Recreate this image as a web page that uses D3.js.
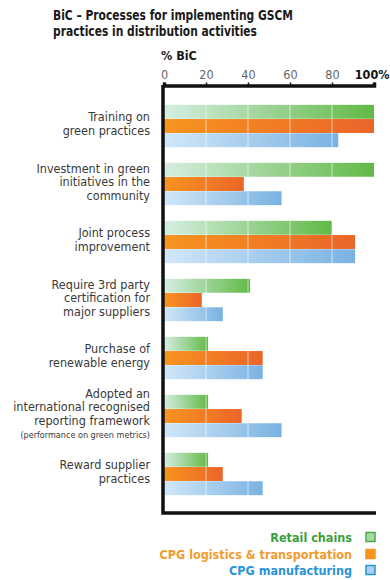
<!DOCTYPE html>
<html>
<head>
<meta charset="utf-8">
<script src="https://cdn.jsdelivr.net/npm/d3@7"></script>
<style>
  html, body { margin: 0; padding: 0; background: #fff; }
  svg { display: block; }
  .cond { font-family: "Liberation Sans Narrow", "DejaVu Sans Condensed", "Open Sans", sans-serif; }
</style>
</head>
<body>
<svg id="chart" width="390" height="580"></svg>
<script>
// Share of BiC companies using each GSCM process in distribution activities
const categories = [
  "Training on\ngreen practices",
  "Investment in green\ninitiatives in the\ncommunity",
  "Joint process\nimprovement",
  "Require 3rd party\ncertification for\nmajor suppliers",
  "Purchase of\nrenewable energy",
  "Adopted an\ninternational recognised\nreporting framework\n(performance on green metrics)",
  "Reward supplier\npractices"
];
const seriesNames = ["Retail chains", "CPG logistics & transportation", "CPG manufacturing"];
const retailChains   = [100, 100, 80, 41, 21, 21, 21];
const cpgLogistics   = [100, 38, 91, 18, 47, 37, 28];
const cpgManufacture = [83, 56, 91, 28, 47, 56, 47];
const tickValues = [0, 20, 40, 60, 80, 100];
const tickLabels = ["0", "20", "40", "60", "80", "100%"];

const seriesValues = [retailChains, cpgLogistics, cpgManufacture];
const palette = [
  { from: "#d6eee2", to: "#62b946", text: "#3c9e3c", box: "#4aa84a", boxFill: "#a9d9a2" },
  { from: "#f7951f", to: "#ea6529", text: "#f39a2c", box: "#f7941d", boxFill: "#f7941d" },
  { from: "#d2e7f8", to: "#79b2e2", text: "#2a93d8", box: "#2a93d8", boxFill: "#acd0f1" }
];

const svg = d3.select("#chart");
const defs = svg.append("defs");
palette.forEach((p, i) => {
  const g = defs.append("linearGradient").attr("id", "grad" + i)
    .attr("x1", "0%").attr("x2", "100%").attr("y1", "0%").attr("y2", "0%");
  g.append("stop").attr("offset", "0%").attr("stop-color", p.from);
  g.append("stop").attr("offset", "100%").attr("stop-color", p.to);
});

const x = d3.scaleLinear().domain([0, 100]).range([164, 374]);
const y = d3.scaleBand().domain(categories).range([97, 503])
  .paddingInner(0.26).paddingOuter(0.13);
const ySub = d3.scaleBand().domain(d3.range(3)).range([0, y.bandwidth()]).padding(0.02);

// Title (condensed to the column width)
const title = svg.append("text").attr("class", "cond")
  .attr("font-size", 14).attr("font-weight", "bold").attr("fill", "#1a1a1a");
title.append("tspan").attr("x", 53).attr("y", 20)
  .attr("textLength", 240).attr("lengthAdjust", "spacingAndGlyphs")
  .text("BiC – Processes for implementing GSCM");
title.append("tspan").attr("x", 53).attr("y", 36)
  .attr("textLength", 204).attr("lengthAdjust", "spacingAndGlyphs")
  .text("practices in distribution activities");

svg.append("text").attr("class", "cond")
  .attr("x", 161).attr("y", 60).attr("font-size", 12.5).attr("font-weight", "bold")
  .attr("fill", "#1a1a1a").text("% BiC");

// Bars
const groups = svg.append("g").selectAll("g").data(categories).join("g")
  .attr("transform", d => `translate(0,${y(d)})`);
groups.each(function (cat, ci) {
  d3.select(this).selectAll("rect").data(seriesValues.map((s, si) => ({ si, v: s[ci] })))
    .join("rect")
    .attr("x", x(0))
    .attr("y", d => ySub(d.si))
    .attr("width", d => x(d.v) - x(0))
    .attr("height", ySub.bandwidth())
    .attr("fill", d => `url(#grad${d.si})`);
});

// Light gridlines over the bars
svg.append("g").selectAll("line").data(tickValues.filter(t => t > 0 && t < 100)).join("line")
  .attr("x1", d => x(d)).attr("x2", d => x(d))
  .attr("y1", 90).attr("y2", 510)
  .attr("stroke", "#fff").attr("stroke-opacity", 0.5).attr("stroke-width", 1.2);

// Top axis
const axis = d3.axisTop(x).tickValues(tickValues)
  .tickFormat((d, i) => tickLabels[i]).tickSize(3).tickPadding(4);
const axG = svg.append("g").attr("transform", "translate(0,85.5)").call(axis);
axG.select(".domain").attr("stroke", "#111").attr("stroke-width", 3.5);
axG.selectAll(".tick line").attr("stroke", "#111").attr("stroke-width", 1.5);
axG.selectAll(".tick text").attr("class", "cond").attr("font-size", 12.5)
  .attr("font-weight", d => d === 100 ? "bold" : "normal")
  .attr("fill", d => d === 100 ? "#111" : "#666")
  .attr("text-anchor", d => d === 100 ? "end" : "middle")
  .attr("dx", d => d === 100 ? 15 : 0);

// Left and bottom frame
svg.append("path")
  .attr("d", `M${x(0) - 1},85 V${513} H${x(100) + 2}`)
  .attr("fill", "none").attr("stroke", "#111").attr("stroke-width", 3.5);

// Category labels
const lh = 13.5;
categories.forEach(cat => {
  const lines = cat.split("\n");
  const cy = y(cat) + y.bandwidth() / 2;
  const t = svg.append("text").attr("class", "cond").attr("text-anchor", "end")
    .attr("fill", "#3a3a3a");
  const n = lines.length;
  lines.forEach((ln, i) => {
    t.append("tspan").attr("x", 150)
      .attr("y", cy - (n - 1) * lh / 2 + i * lh + 2)
      .attr("font-size", ln.startsWith("(") ? 9 : 12.5)
      .text(ln);
  });
});

// Legend
const legendY = [537, 554, 570];
seriesNames.forEach((name, i) => {
  svg.append("text").attr("class", "cond").attr("text-anchor", "end")
    .attr("x", 352).attr("y", legendY[i] + 4.5)
    .attr("font-size", 12.5).attr("font-weight", "bold")
    .attr("fill", palette[i].text).text(name);
  svg.append("rect").attr("x", 366).attr("y", legendY[i] - 4.5)
    .attr("width", 9).attr("height", 9)
    .attr("fill", palette[i].boxFill).attr("stroke", palette[i].box).attr("stroke-width", 1.5);
});
</script>
</body>
</html>
